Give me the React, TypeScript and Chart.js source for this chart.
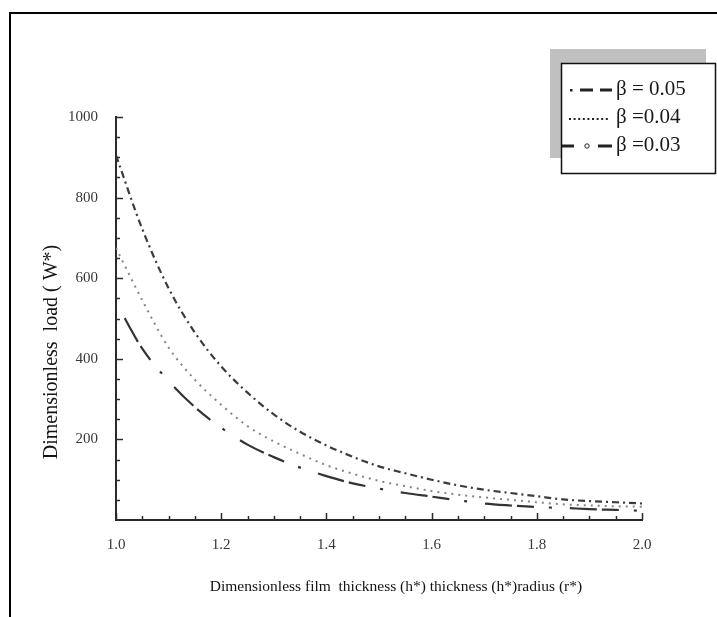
import React, { useEffect, useRef } from "react";
import { Chart, registerables } from "chart.js";

Chart.register(...registerables);

// ---- data ----
const H_VALUES = [1.0, 1.05, 1.1, 1.15, 1.2, 1.25, 1.3, 1.35, 1.4, 1.45, 1.5, 1.55, 1.6, 1.65, 1.7, 1.75, 1.8, 1.85, 1.9, 1.95, 2.0];
const LOAD_BETA_005 = [905, 722, 575, 465, 381, 316, 262, 219, 185, 157, 133, 116, 100, 86, 75, 67, 59, 51, 47, 44, 41];
const LOAD_BETA_004 = [675, 545, 428, 348, 286, 233, 195, 164, 136, 115, 97, 84, 72, 63, 56, 50, 44, 39, 36, 34, 33];
const LOAD_BETA_003 = [540, 425, 345, 280, 229, 187, 156, 130, 109, 91, 78, 67, 58, 49, 41, 36, 32, 30, 27, 25, 23];
const SERIES_LABELS = ["β = 0.05", "β =0.04", "β =0.03"];
const X_TICK_STEP = 0.2;
const Y_TICK_STEP = 200;
const X_TITLE = "Dimensionless film  thickness (h*) thickness (h*)radius (r*)";
const Y_TITLE = "Dimensionless  load ( W*)";

const SERIF = "'Liberation Serif', 'Times New Roman', serif";
const AXIS_COLOR = "#2a2a2a";
const TICK_LABEL_COLOR = "#383838";

const insideTicksPlugin = {
  id: "insideTicks",
  afterDraw(chart: any) {
    const { ctx, chartArea, scales } = chart;
    const xs = scales.x;
    const ys = scales.y;
    ctx.save();
    ctx.strokeStyle = AXIS_COLOR;
    ctx.lineWidth = 1.5;
    // x ticks: minor every 0.05, major every 0.2
    for (let i = 0; i <= 20; i++) {
      const v = xs.min + i * 0.05;
      const px = Math.round(xs.getPixelForValue(v)) + 0.5;
      const len = i % 4 === 0 ? 7 : 4;
      ctx.beginPath();
      ctx.moveTo(px, chartArea.bottom);
      ctx.lineTo(px, chartArea.bottom - len);
      ctx.stroke();
    }
    // y ticks: minor every 50, major every 200
    for (let i = 1; i <= 20; i++) {
      const v = i * 50;
      const py = Math.round(ys.getPixelForValue(v)) + 0.5;
      const len = i % 4 === 0 ? 7 : 4;
      ctx.beginPath();
      ctx.moveTo(chartArea.left, py);
      ctx.lineTo(chartArea.left + len, py);
      ctx.stroke();
    }
    ctx.restore();
  },
};

const titlesPlugin = {
  id: "axisTitles",
  afterDraw(chart: any) {
    const { ctx } = chart;
    ctx.save();
    ctx.fillStyle = "#141414";
    ctx.textAlign = "center";
    ctx.textBaseline = "middle";
    ctx.font = `15.5px ${SERIF}`;
    ctx.fillText(X_TITLE, 396, 587);
    ctx.translate(52, 352);
    ctx.rotate(-Math.PI / 2);
    ctx.font = `20px ${SERIF}`;
    ctx.fillText(Y_TITLE, 0, 0);
    ctx.restore();
  },
};

const legendPlugin = {
  id: "boxLegend",
  afterDraw(chart: any) {
    const { ctx } = chart;
    const datasets = chart.data.datasets;
    ctx.save();
    // shadow
    ctx.fillStyle = "#c0c0c0";
    ctx.fillRect(550, 49, 156, 109);
    // box
    ctx.fillStyle = "#ffffff";
    ctx.fillRect(561, 63, 156, 111);
    ctx.strokeStyle = "#111";
    ctx.lineWidth = 1.5;
    ctx.strokeRect(561.5, 63.5, 154, 110);

    const rowsY = [89, 117, 145];
    const textX = 616;
    ctx.strokeStyle = "#222";
    ctx.fillStyle = "#222";
    // row 1 glyph: dot + two dashes
    let y0 = rowsY[0] + 1;
    ctx.fillRect(570, y0 - 1, 2.5, 2.5);
    ctx.lineWidth = 3;
    ctx.beginPath();
    ctx.moveTo(580, y0); ctx.lineTo(593, y0);
    ctx.moveTo(600, y0); ctx.lineTo(612, y0);
    ctx.stroke();
    // row 2 glyph: dotted
    y0 = rowsY[1] + 2;
    for (let i = 0; i < 9; i++) {
      ctx.fillRect(569 + i * 4.6, y0 - 1, 2, 2);
    }
    // row 3 glyph: dash, small circle, dash
    y0 = rowsY[2] + 1;
    ctx.lineWidth = 3;
    ctx.beginPath();
    ctx.moveTo(562, y0); ctx.lineTo(574, y0);
    ctx.moveTo(598, y0); ctx.lineTo(612, y0);
    ctx.stroke();
    ctx.lineWidth = 1;
    ctx.beginPath();
    ctx.arc(587, y0, 2.2, 0, Math.PI * 2);
    ctx.stroke();

    ctx.font = `21px ${SERIF}`;
    ctx.textAlign = "left";
    ctx.textBaseline = "middle";
    ctx.fillStyle = "#1a1a1a";
    datasets.forEach((ds: any, i: number) => {
      ctx.fillText(ds.label, textX, rowsY[i]);
    });
    ctx.restore();
  },
};

function toPoints(values: number[]) {
  return H_VALUES.map((h, i) => ({ x: h, y: values[i] }));
}

export default function App() {
  const canvasRef = useRef<HTMLCanvasElement | null>(null);

  useEffect(() => {
    const canvas = canvasRef.current;
    if (!canvas) return;
    const chart = new Chart(canvas, {
      type: "line",
      data: {
        datasets: [
          {
            label: SERIES_LABELS[0],
            data: toPoints(LOAD_BETA_005),
            borderColor: "#3c3c3c",
            borderWidth: 2.2,
            borderDash: [7, 4, 2, 4],
            pointRadius: 0,
            cubicInterpolationMode: "monotone",
            fill: false,
          },
          {
            label: SERIES_LABELS[1],
            data: toPoints(LOAD_BETA_004),
            borderColor: "#858585",
            borderWidth: 2,
            borderDash: [2, 5],
            pointRadius: 0,
            cubicInterpolationMode: "monotone",
            fill: false,
          },
          {
            label: SERIES_LABELS[2],
            data: toPoints(LOAD_BETA_003),
            borderColor: "#333333",
            borderWidth: 2.2,
            borderDash: [27, 5, 17, 15, 3, 18],
            borderDashOffset: 67,
            pointRadius: 0,
            cubicInterpolationMode: "monotone",
            fill: false,
          },
        ],
      },
      options: {
        responsive: false,
        devicePixelRatio: 1,
        animation: false,
        events: [],
        layout: { padding: { left: 0, right: 75, top: 117, bottom: 0 } },
        plugins: {
          legend: { display: false },
          tooltip: { enabled: false },
          title: { display: false },
        },
        scales: {
          x: {
            type: "linear",
            min: 1,
            max: 2,
            afterFit(scale: any) {
              scale.height = 97;
            },
            grid: { display: false },
            border: { display: true, color: AXIS_COLOR, width: 2 },
            ticks: {
              stepSize: X_TICK_STEP,
              color: TICK_LABEL_COLOR,
              font: { family: SERIF, size: 15 },
              padding: 8,
              maxRotation: 0,
              callback: (v: any) => Number(v).toFixed(1),
            },
          },
          y: {
            type: "linear",
            min: 0,
            max: 1000,
            afterFit(scale: any) {
              scale.width = 116;
            },
            grid: { display: false },
            border: { display: true, color: AXIS_COLOR, width: 2 },
            ticks: {
              stepSize: Y_TICK_STEP,
              color: TICK_LABEL_COLOR,
              font: { family: SERIF, size: 15 },
              padding: 10,
              callback: (v: any) => (Number(v) === 0 ? "" : String(v)),
            },
          },
        },
      },
      plugins: [insideTicksPlugin, titlesPlugin, legendPlugin],
    } as any);
    return () => chart.destroy();
  }, []);

  return (
    <div
      style={{
        position: "fixed",
        left: 0,
        top: 0,
        width: 717,
        height: 617,
        overflow: "hidden",
        background: "#ffffff",
      }}
    >
      <div
        style={{
          position: "absolute",
          left: 9,
          top: 12,
          width: 800,
          height: 700,
          borderLeft: "2px solid #000",
          borderTop: "2px solid #000",
          boxSizing: "border-box",
        }}
      />
      <canvas
        ref={canvasRef}
        width={717}
        height={617}
        style={{ position: "absolute", left: 0, top: 0 }}
      />
    </div>
  );
}
